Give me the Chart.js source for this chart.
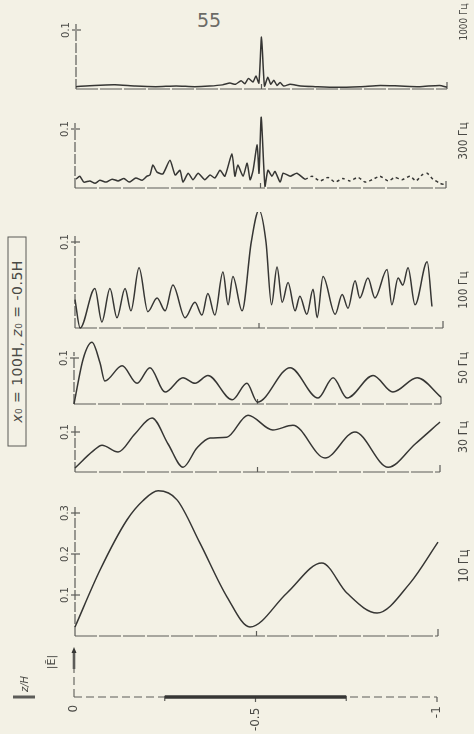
<!DOCTYPE html>
<html>
<head>
<meta charset="utf-8">
<script src="https://cdn.jsdelivr.net/npm/chart.js@4.4.1/dist/chart.umd.min.js"></script>
<style>
  html, body { margin:0; padding:0; background:#f3f1e5; }
  #page { position:relative; width:474px; height:734px; overflow:hidden; background:#f3f1e5; }
  #page canvas { position:absolute; left:0; }
  .pagenum { position:absolute; left:197px; top:9px; font:19px "DejaVu Sans", sans-serif; color:#6b6b66; }
  .boxlabel {
    position:absolute; left:-88px; top:332px; width:210px; height:19px;
    border:1px solid #5a5a56; box-sizing:border-box;
    transform:rotate(-90deg);
    font:14px "DejaVu Sans", sans-serif; color:#4a4a46; letter-spacing:0.5px;
    text-align:center; line-height:17px; white-space:nowrap;
  }
</style>
</head>
<body>
<div id="page">
  <div class="pagenum">55</div>
  <div class="boxlabel"><i>x</i>₀ = 100H, <i>z</i>₀ = -0.5H</div>
</div>
<script>
// z/H along the profile and |E|, one pair per frequency
const z1000 = [0, -0.05, -0.105, -0.16, -0.215, -0.27, -0.32, -0.36, -0.395, -0.415, -0.43, -0.445, -0.455, -0.465, -0.477, -0.485, -0.493, -0.5, -0.508, -0.517, -0.525, -0.533, -0.542, -0.55, -0.56, -0.577, -0.605, -0.645, -0.7, -0.765, -0.82, -0.873, -0.927, -0.98, -1.0];
const e1000 = [0.004, 0.006, 0.007, 0.005, 0.004, 0.005, 0.004, 0.005, 0.007, 0.01, 0.008, 0.014, 0.009, 0.018, 0.012, 0.022, 0.01, 0.088, 0.005, 0.02, 0.008, 0.015, 0.006, 0.011, 0.005, 0.008, 0.005, 0.004, 0.003, 0.004, 0.006, 0.005, 0.004, 0.006, 0.003];

const z300 = [-0.003, -0.013, -0.024, -0.04, -0.054, -0.067, -0.084, -0.1, -0.116, -0.132,
  -0.146, -0.164, -0.181, -0.194, -0.202, -0.21, -0.221, -0.237, -0.256, -0.27,
  -0.283, -0.291, -0.305, -0.318, -0.332, -0.35, -0.364, -0.377, -0.391, -0.404,
  -0.423, -0.431, -0.439, -0.453, -0.464, -0.472, -0.48, -0.491, -0.496, -0.502,
  -0.512, -0.52, -0.531, -0.539, -0.553, -0.561, -0.58, -0.598, -0.62, -0.639,
  -0.66, -0.682, -0.701, -0.722, -0.741, -0.763, -0.782, -0.801, -0.822, -0.844,
  -0.863, -0.881, -0.903, -0.919, -0.935, -0.949, -0.965, -0.984, -1.0];
const e300 = [0.015, 0.02, 0.01, 0.012, 0.008, 0.013, 0.01, 0.015, 0.012, 0.016,
  0.01, 0.017, 0.013, 0.02, 0.022, 0.039, 0.027, 0.024, 0.047, 0.022,
  0.03, 0.01, 0.025, 0.014, 0.025, 0.014, 0.022, 0.017, 0.03, 0.02,
  0.058, 0.02, 0.039, 0.02, 0.042, 0.014, 0.03, 0.073, 0.025, 0.12,
  0.003, 0.03, 0.02, 0.028, 0.01, 0.025, 0.02, 0.025, 0.015, 0.02,
  0.012, 0.018, 0.01, 0.016, 0.012, 0.018, 0.01, 0.014, 0.02, 0.012,
  0.018, 0.014, 0.02, 0.012, 0.022, 0.025, 0.015, 0.008, 0.005];

const z100 = [0, -0.014, -0.054, -0.073, -0.095, -0.114, -0.136, -0.152, -0.174, -0.198,
  -0.223, -0.245, -0.266, -0.299, -0.326, -0.345, -0.361, -0.38, -0.402, -0.416,
  -0.429, -0.454, -0.479, -0.5, -0.519, -0.534, -0.549, -0.563, -0.579, -0.598,
  -0.611, -0.63, -0.647, -0.658, -0.674, -0.707, -0.726, -0.742, -0.761, -0.774,
  -0.796, -0.815, -0.848, -0.861, -0.878, -0.891, -0.905, -0.924, -0.957, -0.97];
const e100 = [0.033, 0.0, 0.046, 0.007, 0.046, 0.012, 0.046, 0.02, 0.07, 0.019,
  0.035, 0.02, 0.05, 0.012, 0.03, 0.015, 0.04, 0.015, 0.065, 0.027,
  0.06, 0.02, 0.1, 0.137, 0.1, 0.027, 0.071, 0.03, 0.053, 0.02,
  0.037, 0.016, 0.045, 0.012, 0.06, 0.016, 0.039, 0.023, 0.055, 0.035,
  0.058, 0.035, 0.068, 0.027, 0.058, 0.05, 0.07, 0.027, 0.077, 0.025];

const z50 = [0, -0.025, -0.049, -0.071, -0.084, -0.131, -0.172, -0.207, -0.248, -0.297, -0.33, -0.365, -0.431, -0.471, -0.5, -0.589, -0.665, -0.706, -0.744, -0.815, -0.869, -0.935, -1.0];
const e50 = [0, 0.098, 0.134, 0.089, 0.05, 0.083, 0.045, 0.079, 0.026, 0.057, 0.045, 0.062, 0.009, 0.045, 0.004, 0.079, 0.013, 0.057, 0.013, 0.062, 0.026, 0.057, 0.015];

const z30 = [0, -0.049, -0.074, -0.118, -0.164, -0.211, -0.255, -0.296, -0.334, -0.37, -0.416, -0.474, -0.542, -0.597, -0.685, -0.767, -0.858, -0.932, -1.0];
const e30 = [0.01, 0.052, 0.067, 0.05, 0.095, 0.135, 0.07, 0.012, 0.06, 0.085, 0.087, 0.142, 0.105, 0.117, 0.035, 0.1, 0.012, 0.07, 0.125];

const z10 = [0, -0.069, -0.143, -0.187, -0.229, -0.281, -0.344, -0.419, -0.482, -0.584, -0.68, -0.749, -0.832, -0.923, -1.0];
const e10 = [0.022, 0.161, 0.283, 0.33, 0.354, 0.332, 0.227, 0.095, 0.022, 0.105, 0.178, 0.105, 0.056, 0.129, 0.229];

const freqLabels = ['1000 Гц', '300 Гц', '100 Гц', '50 Гц', '30 Гц', '10 Гц'];
const zTicks = [0, -0.5, -1];
const zTickLabels = ['0', '-0.5', '-1'];
const barRange = [-0.25, -0.75];

const ink = '#363634';
const axisInk = '#5c5c58';
const page = document.getElementById('page');

// where each panel sits on the page (pixels): axis left/right, zero line, top tick
const panels = [
  {z: z1000, e: e1000, label: freqLabels[0], left: 76, right: 447, base: 89,  topY: 30,  ymax: 0.1, yTicks: [0.1], labelY: 22,  labelSize: 10.5, tension: 0.2},
  {z: z300,  e: e300,  label: freqLabels[1], left: 75, right: 446, base: 188, topY: 129, ymax: 0.1, yTicks: [0.1], labelY: 141, labelSize: 12.5, tension: 0.2, dotFrom: -0.6},
  {z: z100,  e: e100,  label: freqLabels[2], left: 75, right: 443, base: 328, topY: 242, ymax: 0.1, yTicks: [0.1], labelY: 290, labelSize: 12.5},
  {z: z50,   e: e50,   label: freqLabels[3], left: 74, right: 441, base: 404, topY: 358, ymax: 0.1, yTicks: [0.1], labelY: 368, labelSize: 13},
  {z: z30,   e: e30,   label: freqLabels[4], left: 75, right: 440, base: 472, topY: 432, ymax: 0.1, yTicks: [0.1], labelY: 437, labelSize: 13},
  {z: z10,   e: e10,   label: freqLabels[5], left: 75, right: 438, base: 636, topY: 513, ymax: 0.3, yTicks: [0.1, 0.2, 0.3], labelY: 566, labelSize: 13.5}
];

// text turned a quarter left, optionally squeezed along its length
function vtext(ctx, s, x, y, font, squeeze) {
  ctx.save();
  ctx.translate(x, y);
  ctx.rotate(-Math.PI / 2);
  if (squeeze) ctx.scale(squeeze, 1);
  ctx.font = font;
  ctx.fillStyle = '#4a4a46';
  ctx.textAlign = 'center';
  ctx.textBaseline = 'middle';
  ctx.fillText(s, 0, 0);
  ctx.restore();
}
function seg(ctx, x1, y1, x2, y2) {
  ctx.beginPath(); ctx.moveTo(x1, y1); ctx.lineTo(x2, y2); ctx.stroke();
}

function makePanel(p) {
  const padTop = 30, padBottom = 12;
  const h = p.base - p.topY + padTop + padBottom;
  const offY = p.topY - padTop;
  const cv = document.createElement('canvas');
  cv.width = 474; cv.height = h;
  cv.style.top = offY + 'px';
  page.appendChild(cv);

  const axes = {
    id: 'panelAxes',
    beforeDatasetsDraw(chart) {
      const {ctx, scales: {x, y}} = chart;
      const x0 = x.getPixelForValue(0), x1 = x.getPixelForValue(-1), xm = x.getPixelForValue(-0.5);
      const yb = y.getPixelForValue(0);
      ctx.save();
      ctx.strokeStyle = axisInk;
      ctx.lineWidth = 1.2;
      ctx.setLineDash([22, 2]);
      seg(ctx, x0, yb, x1, yb);
      ctx.setLineDash([10, 2]);
      seg(ctx, x0, yb, x0, y.getPixelForValue(p.ymax) - 6);
      ctx.setLineDash([]);
      seg(ctx, xm, yb, xm, yb - 5);
      seg(ctx, x1, yb, x1, yb - 7);
      p.yTicks.forEach(t => {
        const ty = y.getPixelForValue(t);
        seg(ctx, x0 - 4, ty, x0 + 5, ty);
        vtext(ctx, String(t), x0 - 10, ty, '10px "DejaVu Sans", sans-serif');
      });
      vtext(ctx, p.label, 464, p.labelY - offY, p.labelSize + 'px "DejaVu Sans", sans-serif', 0.85);
      ctx.restore();
    }
  };

  new Chart(cv, {
    type: 'line',
    data: {
      datasets: [{
        data: p.z.map((z, i) => ({x: z, y: p.e[i]})),
        borderColor: ink,
        borderWidth: 1.5,
        pointRadius: 0,
        fill: false,
        clip: false,
        tension: p.tension || 0,
        cubicInterpolationMode: p.tension ? 'default' : 'monotone',
        segment: {
          borderDash: c => (p.dotFrom !== undefined && c.p0.parsed.x < p.dotFrom) ? [3, 3] : undefined
        }
      }]
    },
    options: {
      responsive: false,
      animation: false,
      devicePixelRatio: 1,
      layout: {padding: {left: p.left, right: 474 - p.right, top: padTop, bottom: padBottom}},
      scales: {
        x: {type: 'linear', min: -1, max: 0, reverse: true, display: false},
        y: {min: 0, max: p.ymax, display: false}
      },
      plugins: {legend: {display: false}, tooltip: {enabled: false}}
    },
    plugins: [axes]
  });
}

panels.forEach(makePanel);

// bottom depth axis with the marked interval
(function () {
  const offY = 640, h = 94;
  const cv = document.createElement('canvas');
  cv.width = 474; cv.height = h;
  cv.style.top = offY + 'px';
  page.appendChild(cv);

  const zAxis = {
    id: 'zAxis',
    beforeDatasetsDraw(chart) {
      const {ctx, scales: {x, y}} = chart;
      const y0 = y.getPixelForValue(0);
      const x0 = x.getPixelForValue(0);
      ctx.save();
      ctx.strokeStyle = axisInk;
      ctx.lineWidth = 1.1;
      ctx.setLineDash([8, 4]);
      seg(ctx, x0, y0, x.getPixelForValue(-1), y0);
      seg(ctx, x0, y0, x0, y0 - 30);
      ctx.setLineDash([]);
      ctx.lineWidth = 2.6;
      seg(ctx, x0, y0 - 28, x0, y0 - 46);
      ctx.fillStyle = ink;
      ctx.beginPath();
      ctx.moveTo(x0 - 2.5, y0 - 44); ctx.lineTo(x0 + 2.5, y0 - 44); ctx.lineTo(x0, y0 - 50);
      ctx.fill();
      ctx.lineWidth = 1.2;
      zTicks.forEach((t, i) => {
        const tx = x.getPixelForValue(t);
        if (t !== 0) seg(ctx, tx, y0, tx, y0 + 5);
        const lab = zTickLabels[i];
        vtext(ctx, lab, tx, y0 + 8 + lab.length * 3.6, '12px "DejaVu Sans", sans-serif');
      });
      barRange.forEach(t => {
        const tx = x.getPixelForValue(t);
        seg(ctx, tx, y0 - 1, tx, y0 + 4);
      });
      vtext(ctx, '|Ē|', 52, 662 - offY, '11px "DejaVu Sans", sans-serif');
      vtext(ctx, 'z/H', 25, 684 - offY, 'italic 10px "DejaVu Sans", sans-serif');
      ctx.lineWidth = 3;
      seg(ctx, 13, y0, 35, y0);
      ctx.restore();
    }
  };

  new Chart(cv, {
    type: 'line',
    data: {
      datasets: [{
        data: barRange.map(z => ({x: z, y: 0})),
        borderColor: ink,
        borderWidth: 3.5,
        pointRadius: 0,
        clip: false
      }]
    },
    options: {
      responsive: false,
      animation: false,
      devicePixelRatio: 1,
      layout: {padding: {left: 74, right: 37, top: 10, bottom: 37}},
      scales: {
        x: {type: 'linear', min: -1, max: 0, reverse: true, display: false},
        y: {min: 0, max: 1, display: false}
      },
      plugins: {legend: {display: false}, tooltip: {enabled: false}}
    },
    plugins: [zAxis]
  });
})();
</script>
</body>
</html>
